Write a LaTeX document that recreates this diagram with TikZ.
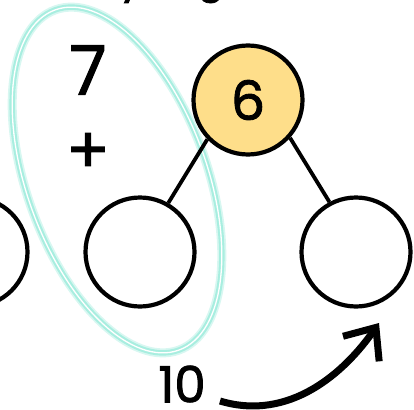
\documentclass[tikz,border=0pt]{standalone}
\usepackage{fontspec}
\setmainfont{Poppins}[BoldFont=Poppins,BoldFeatures={FakeBold=1.6}]
\usetikzlibrary{positioning,arrows.meta}

\begin{document}
\begin{tikzpicture}[x=1pt,y=-1pt,
  bubble/.style={circle,draw=black,line width=4.2pt,minimum size=109pt,inner sep=0pt},
  link/.style={line width=3.8pt},
  glow/.style={draw=halo,line width=#1},
  big/.style={font=\fontsize{#1}{#1}\selectfont\bfseries,inner sep=0pt}]
\definecolor{sum}{RGB}{254,222,138}
\definecolor{halo}{RGB}{168,238,224}
\useasboundingbox (0,0) rectangle (414,409);
\begin{scope}
\clip (0,0) rectangle (414,409);
% cut-off line at the top
\node [big=44,anchor=base west] (task) at (118,3) {7 + 6};
\node [bubble] (far) at (-27,252) {};
\end{scope}
% the ring round the addend
\foreach \w/\c in {9pt/halo!45,5.5pt/halo,1.3pt/white}
\draw [glow=\w,draw=\c,rotate around={20:(117,180)}] (117,180) ellipse [x radius=90pt,y radius=181pt];
\node [big=68] (seven) at (88,70) {7};
\node [big=64,below=83pt of seven.center,anchor=center] (plus) {+};
% the bond
\node [bubble,fill=sum,big=54] (six) at (248,100) {6};
\node [bubble] (left) at (140,252) {};
\node [bubble] (right) at (356,252) {};
\draw [link] (six.224) -- (left.60);
\draw [link] (six.318) -- (right.118);
% ten and the jump
\node [big=50] (ten) at (182,384) {10};
\coordinate (tail) at (220,401);
\coordinate (tip) at (379,323);
\draw [line width=7pt,-{Straight Barb[length=26pt,width=44pt,line width=7pt]}]
  (tail) .. controls (290,422) and (345,372) .. (tip);
\end{tikzpicture}
\end{document}
